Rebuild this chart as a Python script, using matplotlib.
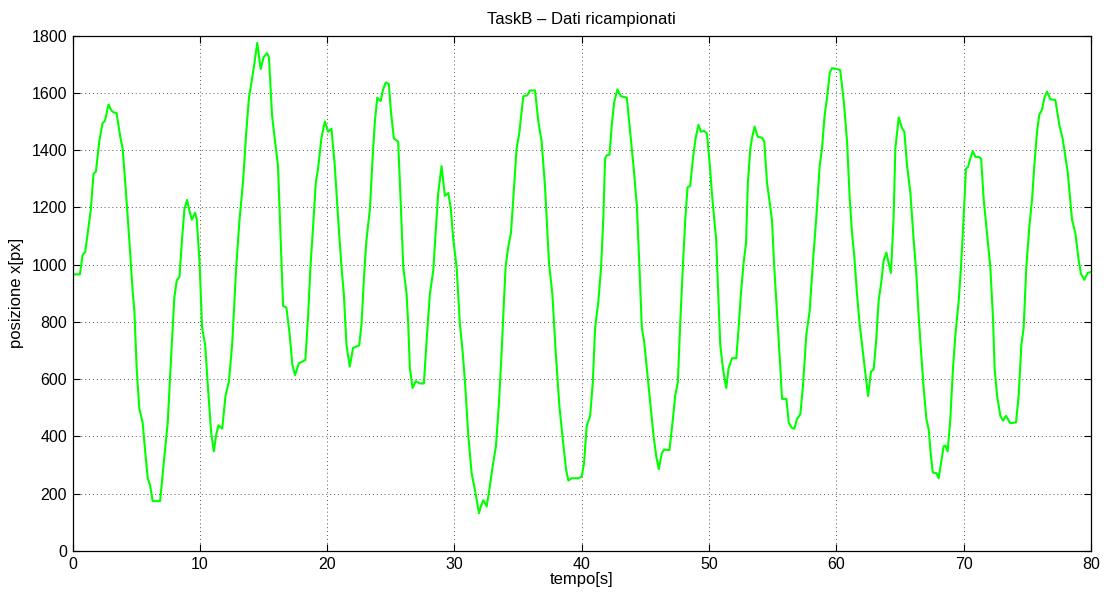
import matplotlib
matplotlib.use('Agg')
import matplotlib.pyplot as plt

plt.rcParams['font.family'] = ['Liberation Sans', 'DejaVu Sans']

# tempo [s]
tempo = [
    0.0, 0.58, 0.79, 1.0, 1.26, 1.44, 1.65, 1.84, 2.1, 2.36, 2.55, 2.83, 3.02, 3.2,
    3.46, 3.75, 3.94, 4.2, 4.46, 4.72, 4.86, 5.04, 5.25, 5.51, 5.72, 5.91, 6.09, 6.3,
    6.88, 7.14, 7.48, 7.74, 8.0, 8.19, 8.4, 8.6, 8.79, 9.0, 9.19, 9.37, 9.63, 9.76,
    9.97, 10.18, 10.42, 10.63, 10.89, 11.1, 11.29, 11.47, 11.76, 12.02, 12.28, 12.54,
    12.86, 13.12, 13.39, 13.65, 13.86, 14.12, 14.3, 14.51, 14.78, 15.01, 15.28, 15.43,
    15.67, 15.88, 16.14, 16.33, 16.54, 16.8, 17.06, 17.27, 17.48, 17.77, 18.03, 18.29,
    18.5, 18.69, 18.9, 19.11, 19.29, 19.55, 19.82, 20.08, 20.34, 20.6, 20.87, 21.13,
    21.31, 21.52, 21.78, 22.04, 22.31, 22.52, 22.7, 22.91, 23.09, 23.36, 23.57, 23.75,
    23.94, 24.2, 24.4, 24.61, 24.85, 25.01, 25.24, 25.58, 25.77, 25.98, 26.24, 26.37,
    26.5, 26.71, 26.97, 27.29, 27.6, 27.81, 28.07, 28.34, 28.52, 28.73, 28.99, 29.25,
    29.52, 29.72, 29.91, 30.17, 30.43, 30.64, 30.83, 31.09, 31.35, 31.61, 31.93, 32.06,
    32.27, 32.53, 32.74, 33.0, 33.26, 33.5, 33.71, 33.89, 34.02, 34.23, 34.44, 34.62,
    34.88, 35.09, 35.41, 35.72, 35.93, 36.33, 36.59, 36.85, 37.11, 37.43, 37.69, 37.95,
    38.24, 38.51, 38.77, 38.95, 39.21, 39.74, 40.0, 40.18, 40.39, 40.66, 40.87, 41.05,
    41.31, 41.52, 41.7, 41.83, 41.97, 42.18, 42.36, 42.54, 42.8, 43.07, 43.54, 43.8,
    44.06, 44.33, 44.53, 44.72, 44.9, 45.11, 45.37, 45.64, 45.85, 46.05, 46.29, 46.47,
    46.89, 47.16, 47.34, 47.55, 47.73, 47.94, 48.13, 48.31, 48.52, 48.73, 48.94, 49.17,
    49.36, 49.62, 49.83, 50.04, 50.22, 50.41, 50.56, 50.69, 50.88, 51.09, 51.35, 51.53,
    51.8, 52.14, 52.32, 52.5, 52.71, 52.9, 53.05, 53.24, 53.37, 53.58, 53.81, 54.15,
    54.34, 54.55, 54.76, 54.94, 55.12, 55.33, 55.6, 55.73, 56.07, 56.26, 56.47, 56.7,
    56.91, 57.17, 57.38, 57.64, 57.9, 58.17, 58.43, 58.69, 58.87, 59.08, 59.27, 59.48,
    59.66, 60.05, 60.3, 60.58, 60.84, 61.05, 61.23, 61.41, 61.62, 61.83, 62.02, 62.23,
    62.49, 62.72, 62.93, 63.12, 63.32, 63.51, 63.72, 63.93, 64.11, 64.29, 64.5, 64.63,
    64.9, 65.16, 65.34, 65.55, 65.81, 66.07, 66.28, 66.47, 66.65, 66.86, 67.07, 67.25,
    67.43, 67.57, 67.85, 68.04, 68.22, 68.43, 68.56, 68.74, 68.95, 69.16, 69.35, 69.61,
    69.79, 70.0, 70.18, 70.34, 70.52, 70.71, 70.92, 71.18, 71.37, 71.57, 71.83, 72.09,
    72.3, 72.43, 72.62, 72.88, 73.09, 73.32, 73.66, 74.11, 74.32, 74.53, 74.71, 74.92,
    75.16, 75.37, 75.55, 75.76, 75.94, 76.15, 76.34, 76.54, 76.81, 77.2, 77.51, 77.77,
    78.17, 78.51, 78.77, 79.03, 79.21, 79.48, 79.74, 80.0,
]

# posizione x [px]
posizione = [
    966, 966, 1033, 1045, 1134, 1193, 1317, 1325, 1429, 1494, 1502, 1559, 1541, 1532,
    1529, 1447, 1405, 1252, 1087, 909, 838, 638, 496, 449, 342, 254, 230, 174,
    174, 295, 449, 673, 886, 945, 957, 1087, 1193, 1226, 1187, 1157, 1181, 1157,
    1016, 779, 720, 579, 413, 348, 407, 439, 427, 543, 590, 720,
    992, 1157, 1287, 1464, 1583, 1653, 1707, 1774, 1683, 1724, 1738, 1724,
    1523, 1441, 1346, 1110, 856, 850, 756, 650, 614, 655, 661, 667,
    815, 992, 1134, 1287, 1335, 1441, 1500, 1464, 1474, 1346, 1157, 992,
    898, 720, 644, 709, 714, 718, 791, 968, 1087, 1193, 1370, 1500,
    1583, 1571, 1612, 1636, 1630, 1535, 1441, 1429, 1228, 992, 898, 791,
    638, 569, 593, 585, 585, 732, 898, 980, 1110, 1252, 1344, 1240,
    1250, 1193, 1087, 992, 791, 697, 590, 402, 272, 213, 132, 154,
    177, 156, 213, 295, 366, 520, 697, 874, 992, 1063, 1110, 1228,
    1405, 1458, 1588, 1591, 1608, 1608, 1500, 1429, 1275, 1004, 898, 697,
    508, 390, 283, 246, 254, 254, 260, 307, 437, 472, 590, 779,
    874, 992, 1169, 1370, 1382, 1384, 1488, 1565, 1612, 1588, 1583, 1464,
    1346, 1205, 992, 779, 732, 638, 520, 402, 331, 286, 342, 354,
    352, 461, 543, 590, 791, 992, 1157, 1270, 1275, 1370, 1441, 1488,
    1464, 1467, 1458, 1358, 1252, 1157, 1087, 933, 720, 638, 569, 638,
    673, 673, 779, 898, 1004, 1075, 1287, 1405, 1441, 1482, 1447, 1443,
    1429, 1287, 1216, 1157, 992, 838, 638, 531, 531, 449, 431, 427,
    461, 478, 579, 756, 838, 1016, 1169, 1346, 1405, 1523, 1583, 1671,
    1686, 1683, 1679, 1571, 1429, 1228, 1110, 1027, 898, 791, 720, 638,
    541, 626, 635, 732, 874, 933, 1016, 1042, 1004, 971, 1169, 1405,
    1514, 1476, 1464, 1346, 1252, 1087, 968, 815, 697, 567, 461, 425,
    331, 274, 272, 254, 307, 366, 368, 348, 461, 638, 756, 874,
    992, 1169, 1335, 1341, 1370, 1396, 1376, 1376, 1370, 1228, 1110, 992,
    815, 638, 543, 472, 455, 472, 446, 449, 543, 720, 779, 992,
    1134, 1228, 1346, 1464, 1523, 1541, 1583, 1604, 1577, 1575, 1488, 1441,
    1323, 1157, 1110, 1016, 968, 947, 971, 974,
]

x_ticks = [0, 10, 20, 30, 40, 50, 60, 70, 80]
y_ticks = [0, 200, 400, 600, 800, 1000, 1200, 1400, 1600, 1800]

fig = plt.figure(figsize=(11.08, 5.93), dpi=100)
ax = fig.add_axes([72.5 / 1108, 1 - 551 / 593, (1091 - 72.5) / 1108, (551 - 35.5) / 593])

ax.plot(tempo, posizione, color='#00ff00', linewidth=1.5, solid_joinstyle='round')

ax.set_xlim(0, 80)
ax.set_ylim(0, 1800)
ax.set_xticks(x_ticks)
ax.set_yticks(y_ticks)
ax.tick_params(direction='in', length=5, width=0.8, top=True, right=True,
               labelsize=11.5, pad=4)
ax.grid(True, color='#555555', linestyle=(0, (1, 3)), linewidth=0.7)
for s in ax.spines.values():
    s.set_linewidth(0.9)

ax.set_title('TaskB \u2013 Dati ricampionati', fontsize=12, pad=8)
ax.set_xlabel('tempo[s]', fontsize=12, labelpad=0)
ax.set_ylabel('posizione x[px]', fontsize=12, labelpad=5)

fig.savefig('out.png', dpi=100)
